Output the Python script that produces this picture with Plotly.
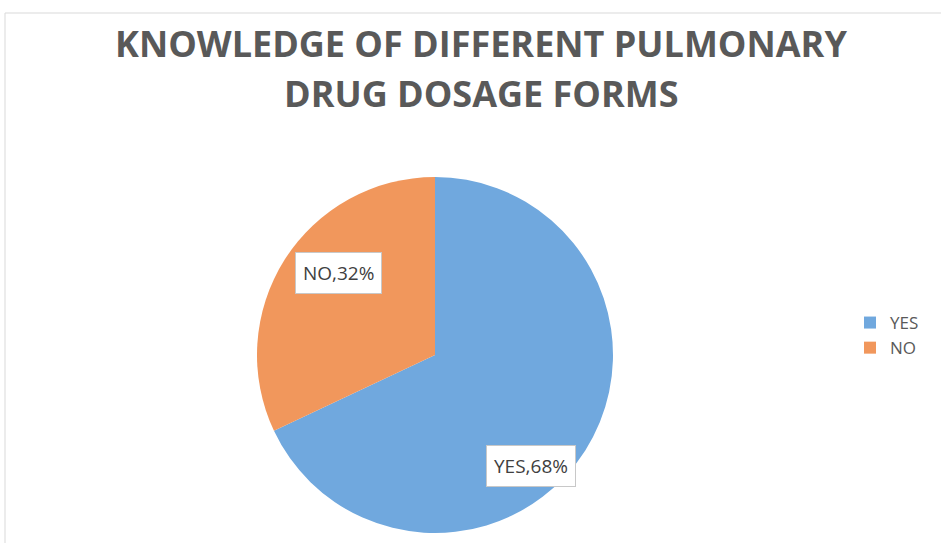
import plotly.graph_objects as go

labels = ["YES", "NO"]
values = [68, 32]
colors = ["#70A8DE", "#F1975C"]
title_lines = ["KNOWLEDGE OF DIFFERENT PULMONARY", "DRUG DOSAGE FORMS"]

W, H = 941, 543
cx, cy, r = 435, 355, 178

fig = go.Figure(go.Pie(
    labels=labels, values=values, sort=False, direction="clockwise", rotation=0,
    marker=dict(colors=colors, line=dict(color="white", width=0)),
    textinfo="none", hoverinfo="label+percent",
    domain=dict(x=[(cx - r) / W, (cx + r) / W], y=[1 - (cy + r) / H, 1 - (cy - r) / H]),
))

# data labels with boxes
label_pos = {"YES": (531, 466), "NO": (338, 273)}
for lab, val in zip(labels, values):
    px, py = label_pos[lab]
    fig.add_annotation(
        x=px / W, y=1 - py / H, xref="paper", yref="paper",
        xanchor="center", yanchor="middle",
        text=f"{lab},{val}%", showarrow=False,
        font=dict(family="Open Sans, sans-serif", size=19, color="#404040"),
        bgcolor="white", bordercolor="#C8C8C8", borderwidth=1, borderpad=7,
    )

for line, ty in zip(title_lines, [43, 93]):
    fig.add_annotation(
        x=481 / W, y=1 - ty / H, xref="paper", yref="paper",
        text=f"<b>{line}</b>", showarrow=False,
        font=dict(family="Open Sans, sans-serif", size=36, color="#595959"),
        xanchor="center", yanchor="middle",
    )

fig.add_shape(type="rect", xref="paper", yref="paper",
              x0=5 / W, x1=1.05, y0=-0.05, y1=1 - 13 / H,
              line=dict(color="#D9D9D9", width=1))

fig.update_layout(
    width=W, height=H,
    margin=dict(l=0, r=0, t=0, b=0),
    paper_bgcolor="white", plot_bgcolor="white",
    showlegend=True,
    legend=dict(x=850 / W, y=1 - 305 / H, xanchor="left", yanchor="top",
                font=dict(family="Open Sans, sans-serif", size=17, color="#595959"),
                itemwidth=30, tracegroupgap=0),
)

fig.write_html(
    "out.html",
    config={"displayModeBar": False},
    post_script="document.body.style.margin='0';document.body.style.overflow='hidden';",
)
